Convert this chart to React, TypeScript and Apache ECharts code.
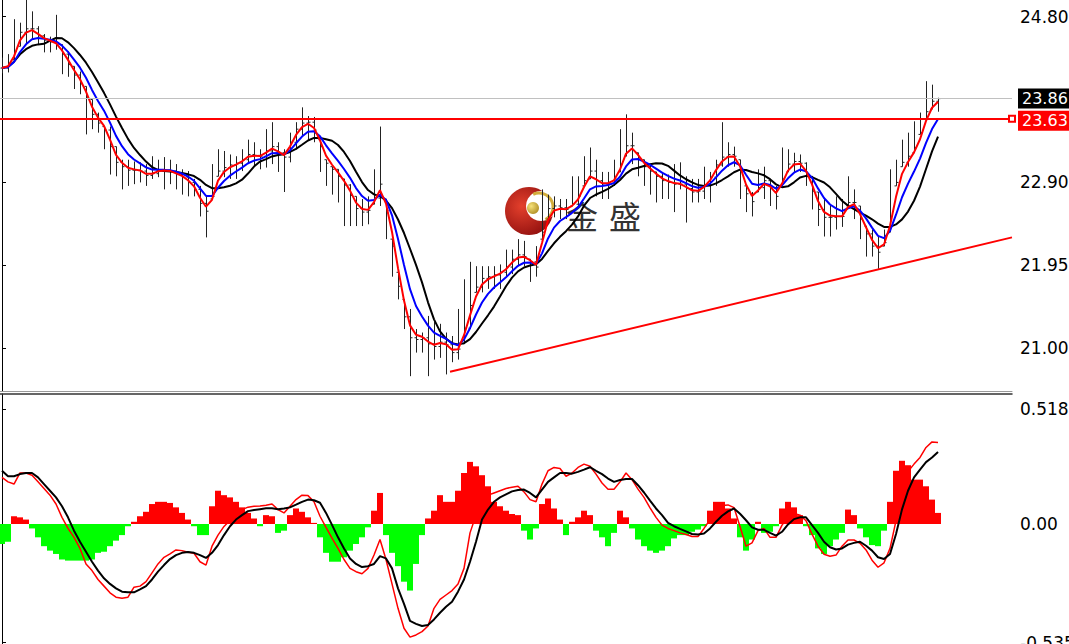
import React, { useEffect, useRef } from "react";
import * as echarts from "echarts";

// ---- price bars (one entry per bar) ----
const HIGH = [
  24.33, 24.37, 24.77, 24.73, 24.99, 24.86, 24.69, 24.6, 24.57, 24.82,
  24.48, 24.4, 24.23, 24.17, 24.0, 23.85, 23.7, 23.54, 23.54, 23.31,
  23.16, 23.16, 23.14, 23.13, 23.11, 23.2, 23.16, 23.19, 23.16, 23.11,
  23.05, 23.03, 22.94, 22.86, 22.74, 23.11, 23.28, 23.26, 23.22, 23.2,
  23.28, 23.39, 23.36, 23.28, 23.51, 23.59, 23.36, 23.28, 23.47, 23.59,
  23.76, 23.66, 23.65, 23.39, 23.16, 23.08, 23.05, 22.94, 22.88, 22.74,
  22.71, 22.74, 23.05, 23.54, 22.71, 22.25, 21.87, 21.56, 21.45, 21.22,
  21.18, 21.37, 21.3, 21.28, 21.18, 21.14, 21.45, 21.79, 21.99, 21.94,
  21.94, 21.94, 21.94, 21.96, 22.13, 22.13, 22.25, 22.23, 22.02, 22.17,
  22.82, 22.76, 22.74, 22.71, 22.71, 22.97, 22.97, 23.2, 23.3, 23.16,
  23.02, 23.02, 23.16, 23.51, 23.68, 23.47, 23.24, 23.16, 23.11, 23.02,
  23.02, 22.99, 23.11, 23.13, 22.97, 22.94, 22.94, 23.08, 23.02, 23.16,
  23.59, 23.36, 23.31, 23.16, 22.86, 22.79, 23.05, 23.08, 22.94, 22.86,
  23.3, 23.28, 23.24, 23.22, 23.13, 22.97, 22.79, 22.71, 22.65, 22.74,
  22.71, 22.97, 22.82, 22.63, 22.4, 22.36, 22.28, 22.36, 23.05, 23.16,
  23.39, 23.47, 23.6, 23.7, 24.06, 24.02, 23.87,
];
const LOW = [
  24.15, 24.16, 24.31, 24.46, 24.48, 24.54, 24.48, 24.39, 24.39, 24.42,
  24.14, 24.11, 23.97, 23.91, 23.45, 23.51, 23.47, 23.28, 22.99, 22.97,
  22.82, 22.86, 22.88, 22.9, 22.86, 22.94, 22.96, 22.82, 22.88, 22.82,
  22.76, 22.74, 22.74, 22.51, 22.27, 22.71, 22.97, 22.96, 22.94, 22.94,
  23.03, 23.11, 23.08, 23.05, 23.07, 23.11, 23.02, 22.79, 23.13, 23.28,
  23.43, 23.39, 23.36, 23.02, 22.86, 22.76, 22.67, 22.4, 22.4, 22.4,
  22.4, 22.42, 22.65, 22.63, 22.25, 21.82, 21.56, 21.22, 20.68, 20.95,
  20.95, 20.68, 20.87, 20.89, 20.7, 20.84, 20.87, 21.05, 21.22, 21.64,
  21.64, 21.68, 21.68, 21.68, 21.82, 21.85, 21.94, 21.94, 21.76, 21.82,
  22.25, 22.48, 22.5, 22.48, 22.48, 22.63, 22.63, 22.86, 22.94, 22.74,
  22.71, 22.71, 22.86, 23.02, 23.2, 23.11, 22.97, 22.86, 22.76, 22.67,
  22.71, 22.71, 22.56, 22.82, 22.44, 22.67, 22.67, 22.71, 22.67, 22.86,
  23.08, 23.08, 23.08, 22.71, 22.56, 22.51, 22.79, 22.71, 22.63, 22.59,
  22.86, 23.02, 23.02, 23.02, 22.86, 22.59, 22.4, 22.28, 22.28, 22.36,
  22.39, 22.63, 22.48, 22.25, 22.05, 22.05, 21.91, 22.17, 22.33, 22.86,
  23.08, 23.08, 23.24, 23.45, 23.62, 23.74, 23.71,
];
const CLOSE = [
  24.21, 24.24, 24.4, 24.62, 24.66, 24.66, 24.58, 24.53, 24.51, 24.48,
  24.37, 24.25, 24.13, 24.03, 23.87, 23.68, 23.58, 23.5, 23.31, 23.13,
  23.08, 23.04, 23.04, 23.03, 22.98, 23.0, 23.04, 23.04, 23.03, 22.99,
  22.96, 22.9, 22.82, 22.66, 22.57, 22.74, 23.03, 23.07, 23.1, 23.12,
  23.16, 23.22, 23.21, 23.2, 23.26, 23.31, 23.24, 23.19, 23.36, 23.51,
  23.58, 23.59, 23.5, 23.31, 23.12, 23.05, 22.97, 22.87, 22.75, 22.6,
  22.56, 22.58, 22.72, 22.88, 22.58, 22.17, 21.71, 21.36, 21.12, 21.1,
  21.12, 21.05, 21.02, 21.07, 21.04, 20.95, 20.99, 21.23, 21.49, 21.7,
  21.8, 21.82, 21.84, 21.87, 21.93, 22.02, 22.07, 22.05, 21.99, 21.93,
  22.33, 22.6, 22.63, 22.61, 22.59, 22.65, 22.74, 22.92, 23.03, 22.92,
  22.87, 22.89, 22.94, 23.11, 23.32, 23.32, 23.18, 23.08, 23.03, 22.97,
  22.92, 22.9, 22.88, 22.88, 22.83, 22.79, 22.8, 22.87, 22.96, 23.1,
  23.19, 23.22, 23.2, 23.03, 22.77, 22.68, 22.84, 22.92, 22.84, 22.74,
  22.94, 23.11, 23.14, 23.12, 22.99, 22.8, 22.59, 22.5, 22.5, 22.51,
  22.51, 22.67, 22.67, 22.48, 22.31, 22.17, 22.1, 22.21, 22.51, 22.9,
  23.13, 23.2, 23.3, 23.47, 23.71, 23.83, 23.86,
];

// ---- MACD window ----
const MACD_MAIN = [
  0.21, 0.19, 0.18, 0.23, 0.23, 0.22, 0.19, 0.16, 0.13, 0.09,
  0.03, -0.02, -0.06, -0.11, -0.18, -0.21, -0.25, -0.28, -0.31, -0.33,
  -0.335, -0.33, -0.285, -0.28, -0.26, -0.22, -0.18, -0.15, -0.135, -0.117,
  -0.12, -0.127, -0.132, -0.17, -0.185, -0.1, -0.05, -0.011, 0.017, 0.043,
  0.065, 0.076, 0.08, 0.081, 0.085, 0.09, 0.065, 0.05, 0.08, 0.11,
  0.13, 0.128, 0.1, 0.035, -0.015, -0.064, -0.11, -0.16, -0.2, -0.215,
  -0.224, -0.2, -0.14, -0.07, -0.16, -0.27, -0.38, -0.47, -0.51, -0.5,
  -0.485, -0.46, -0.38, -0.34, -0.32, -0.3, -0.27, -0.2, -0.04, 0.04,
  0.1, 0.13, 0.14, 0.15, 0.16, 0.166, 0.17, 0.145, 0.11, 0.1,
  0.18, 0.24, 0.255, 0.25, 0.215, 0.23, 0.255, 0.27, 0.26, 0.225,
  0.185, 0.157, 0.157, 0.19, 0.23, 0.2, 0.157, 0.12, 0.073, 0.03,
  -0.005, -0.02, -0.03, -0.04, -0.047, -0.056, -0.056, -0.02, 0.02, 0.06,
  0.083, 0.086, 0.074, -0.011, -0.1, -0.085, -0.03, -0.02, -0.06, -0.06,
  -0.005, 0.03, 0.048, 0.04, 0.015, -0.046, -0.1, -0.136, -0.145, -0.14,
  -0.1, -0.072, -0.072, -0.087, -0.117, -0.163, -0.195, -0.175, -0.11, 0.015,
  0.172, 0.237, 0.27, 0.3, 0.345, 0.37, 0.367,
];
const MACD_SIGNAL = [
  0.24, 0.215, 0.215, 0.225, 0.23, 0.23, 0.21, 0.18, 0.15, 0.12,
  0.08, 0.03, -0.03, -0.08, -0.125, -0.17, -0.21, -0.245, -0.27, -0.29,
  -0.305, -0.308, -0.308, -0.295, -0.28, -0.25, -0.215, -0.185, -0.158, -0.14,
  -0.13, -0.126, -0.13, -0.14, -0.153, -0.13, -0.095, -0.05, -0.01, 0.02,
  0.04, 0.058, 0.063, 0.067, 0.071, 0.071, 0.067, 0.07, 0.075, 0.087,
  0.1, 0.11, 0.107, 0.096, 0.05, -0.004, -0.06, -0.11, -0.155, -0.18,
  -0.194, -0.19, -0.18, -0.145, -0.155, -0.2, -0.29, -0.36, -0.437, -0.45,
  -0.46, -0.455, -0.43, -0.4, -0.373, -0.35, -0.305, -0.25, -0.17, -0.08,
  0.02, 0.065, 0.1, 0.12, 0.134, 0.147, 0.153, 0.155, 0.14, 0.12,
  0.155, 0.19, 0.21, 0.23, 0.23, 0.227, 0.235, 0.245, 0.256, 0.24,
  0.225, 0.205, 0.19, 0.198, 0.203, 0.203, 0.175, 0.142, 0.105, 0.07,
  0.04, 0.005, -0.01, -0.022, -0.033, -0.045, -0.047, -0.043, -0.02, 0.01,
  0.037, 0.057, 0.07, 0.046, 0.017, -0.015, -0.026, -0.026, -0.04, -0.052,
  -0.035, -0.002, 0.022, 0.03, 0.03, -0.005, -0.04, -0.08, -0.105, -0.115,
  -0.11, -0.093, -0.085, -0.08, -0.098, -0.12, -0.15, -0.158, -0.135, -0.045,
  0.066, 0.15, 0.21, 0.245, 0.279, 0.3, 0.325,
];
const MACD_HIST = [
  -0.09, -0.08, 0.035, 0.03, 0.02, -0.02, -0.06, -0.1, -0.12, -0.135,
  -0.16, -0.165, -0.165, -0.165, -0.165, -0.16, -0.13, -0.125, -0.1, -0.075,
  -0.05, -0.01, 0.01, 0.035, 0.055, 0.09, 0.1, 0.1, 0.095, 0.075,
  0.05, 0.02, -0.01, -0.05, -0.05, 0.08, 0.15, 0.13, 0.12, 0.1,
  0.075, 0.05, 0.025, -0.01, 0.04, 0.035, -0.04, -0.03, 0.04, 0.07,
  0.055, 0.03, 0.005, -0.06, -0.13, -0.17, -0.17, -0.15, -0.12, -0.09,
  -0.06, -0.015, 0.06, 0.14, -0.05, -0.13, -0.19, -0.26, -0.3, -0.18,
  -0.05, 0.025, 0.06, 0.13, 0.1, 0.1, 0.15, 0.23, 0.28, 0.26,
  0.22, 0.17, 0.1, 0.08, 0.06, 0.045, 0.04, -0.03, -0.07, -0.02,
  0.09, 0.115, 0.07, 0.02, -0.05, 0.01, 0.03, 0.06, 0.04, -0.03,
  -0.06, -0.1, -0.04, 0.06, 0.03, -0.02, -0.07, -0.1, -0.12, -0.13,
  -0.12, -0.1, -0.065, -0.05, -0.05, -0.035, -0.025, -0.01, 0.06, 0.1,
  0.1, 0.07, 0.025, -0.06, -0.12, -0.07, 0.01, -0.04, -0.035, -0.01,
  0.07, 0.1, 0.075, 0.04, -0.01, -0.05, -0.11, -0.135, -0.1, -0.07,
  -0.04, 0.065, 0.04, -0.02, -0.06, -0.095, -0.1, -0.03, 0.1, 0.24,
  0.285, 0.265, 0.2, 0.2, 0.17, 0.11, 0.05,
];

// ---- axis labels & levels ----
const PRICE_LABELS = [21.0, 21.95, 22.9, 24.8];
const MACD_LABELS = [-0.535, 0, 0.518];
const BID_PRICE = 23.86;
const RESISTANCE = 23.63;
const TREND_FROM = [74.67, 20.73];
const TREND_TO = [168.33, 22.27];
const PRICE_MIN = 20.51;
const PRICE_MAX = 24.99;
const MACD_MIN = -0.613;
const MACD_MAX = 0.586;
const X_MIN = -0.333;
const X_MAX = 168.33;

const FAST_EMA = 2;
const MID_EMA = 5;
const SLOW_SMA = 8;

function ema(src: number[], n: number): number[] {
  const a = 2 / (n + 1);
  const out: number[] = [];
  let prev = src[0];
  src.forEach((v, i) => {
    prev = i === 0 ? v : a * v + (1 - a) * prev;
    out.push(prev);
  });
  return out;
}
function sma(src: number[], n: number): number[] {
  return src.map((_, i) => {
    const w = src.slice(Math.max(0, i - n + 1), i + 1);
    return w.reduce((s, v) => s + v, 0) / w.length;
  });
}

const FONT = "DejaVu Sans";

export default function App() {
  const ref = useRef<HTMLDivElement>(null);
  useEffect(() => {
    document.body.style.margin = "0";
    const chart = echarts.init(ref.current as HTMLDivElement, null, { renderer: "svg" });
    const bars = CLOSE.map((c, i) => {
      const prev = i === 0 ? c : CLOSE[i - 1];
      const o = Math.min(HIGH[i], Math.max(LOW[i], prev));
      return [i, o, c, LOW[i], HIGH[i]];
    });
    const toXY = (arr: number[]) => arr.map((v, i) => [i, v]);
    const red = toXY(ema(CLOSE, FAST_EMA));
    const blue = toXY(ema(CLOSE, MID_EMA));
    const black = toXY(sma(CLOSE, SLOW_SMA));
    const barColor = "#222222";

    const gold = new echarts.graphic.RadialGradient(0.35, 0.35, 0.8, [
      { offset: 0, color: "#f6e27a" },
      { offset: 1, color: "#a8861c" },
    ]);
    const redGrad = new echarts.graphic.RadialGradient(0.35, 0.4, 0.75, [
      { offset: 0, color: "#e4402c" },
      { offset: 1, color: "#8a0c0c" },
    ]);

    const boxLabel = {
      show: true, position: "end", distance: 6,
      color: "#ffffff", padding: [1, 6, 1, 4],
      fontFamily: FONT, fontSize: 16, lineHeight: 18,
    };

    const option: any = {
      animation: false,
      backgroundColor: "#ffffff",
      grid: [
        { left: 0, right: 57, top: 0, bottom: 253, containLabel: false, outerBoundsMode: "none" },
        { left: 0, right: 57, top: 394, bottom: -16, containLabel: false, outerBoundsMode: "none" },
      ],
      xAxis: [
        {
          type: "value", gridIndex: 0, min: X_MIN, max: X_MAX, position: "bottom",
          axisLine: { show: true, onZero: false, lineStyle: { color: "#9a9a9a", width: 1 } },
          axisTick: { show: false }, axisLabel: { show: false }, splitLine: { show: false },
        },
        {
          type: "value", gridIndex: 1, min: X_MIN, max: X_MAX, position: "top",
          axisLine: { show: true, onZero: false, lineStyle: { color: "#333333", width: 1.5 } },
          axisTick: { show: false }, axisLabel: { show: false }, splitLine: { show: false },
        },
      ],
      yAxis: [
        {
          type: "value", gridIndex: 0, position: "right", min: PRICE_MIN, max: PRICE_MAX,
          axisLine: { show: true, lineStyle: { color: "#000", width: 1 } },
          axisTick: { show: true, length: 4, customValues: PRICE_LABELS, lineStyle: { color: "#000" } },
          axisLabel: {
            customValues: PRICE_LABELS, formatter: (v: number) => v.toFixed(2),
            color: "#000", fontFamily: FONT, fontSize: 17, margin: 8,
          },
          splitLine: { show: false },
        },
        {
          type: "value", gridIndex: 1, position: "right", min: MACD_MIN, max: MACD_MAX,
          axisLine: { show: true, lineStyle: { color: "#000", width: 1 } },
          axisTick: { show: true, length: 4, customValues: MACD_LABELS, lineStyle: { color: "#000" } },
          axisLabel: {
            customValues: MACD_LABELS,
            formatter: (v: number) => (v === 0 ? "0.00" : v.toFixed(3)),
            color: "#000", fontFamily: FONT, fontSize: 17, margin: 8,
          },
          splitLine: { show: false },
        },
      ],
      graphic: [
        { type: "circle", z: 0, shape: { cx: 529, cy: 211, r: 24 }, style: { fill: redGrad } },
        { type: "circle", z: 0, shape: { cx: 541, cy: 206, r: 15 }, style: { fill: "#ffffff" } },
        {
          type: "arc", z: 0,
          shape: { cx: 539, cy: 207, r: 14, startAngle: -2.0, endAngle: 1.1, clockwise: true },
          style: { stroke: "#d2ad3c", lineWidth: 3, fill: "none" },
        },
        { type: "circle", z: 0, shape: { cx: 533, cy: 208, r: 6 }, style: { fill: gold } },
        {
          type: "text", z: 0, x: 566, y: 215,
          style: { text: "金", font: '32px "Noto Sans CJK SC"', fill: "#333333", verticalAlign: "middle" },
        },
        {
          type: "text", z: 0, x: 609, y: 215,
          style: { text: "盛", font: '32px "Noto Sans CJK SC"', fill: "#333333", verticalAlign: "middle" },
        },
      ],
      series: [
        {
          type: "custom", name: "bars", xAxisIndex: 0, yAxisIndex: 0, silent: true,
          renderItem: (params: any, api: any) => {
            const x = api.value(0);
            const pO = api.coord([x, api.value(1)]);
            const pC = api.coord([x, api.value(2)]);
            const pL = api.coord([x, api.value(3)]);
            const pH = api.coord([x, api.value(4)]);
            const px = Math.round(pH[0]) + 0.5;
            const st = { stroke: barColor, lineWidth: 1 };
            return {
              type: "group",
              children: [
                { type: "line", shape: { x1: px, y1: pH[1], x2: px, y2: pL[1] }, style: st },
                { type: "line", shape: { x1: px - 2, y1: pO[1], x2: px, y2: pO[1] }, style: st },
                { type: "line", shape: { x1: px, y1: pC[1], x2: px + 2, y2: pC[1] }, style: st },
              ],
            };
          },
          encode: { x: 0, y: [1, 2, 3, 4] },
          data: bars,
        },
        {
          type: "line", name: "ma-slow", xAxisIndex: 0, yAxisIndex: 0, data: black,
          showSymbol: false, silent: true, lineStyle: { color: "#000000", width: 2 },
          markLine: {
            silent: true, symbol: ["none", "none"], animation: false,
            lineStyle: { color: "#ff0000", width: 2, type: "solid" },
            label: { show: false },
            data: [[{ coord: TREND_FROM }, { coord: TREND_TO }]],
          },
        },
        {
          type: "line", name: "ma-mid", xAxisIndex: 0, yAxisIndex: 0, data: blue,
          showSymbol: false, silent: true, lineStyle: { color: "#0000ff", width: 2 },
          markLine: {
            silent: true, symbol: ["none", "none"], animation: false,
            lineStyle: { color: "#c0c0c0", width: 1, type: "solid" },
            label: { ...boxLabel, backgroundColor: "#000000", formatter: () => BID_PRICE.toFixed(2) },
            data: [{ yAxis: BID_PRICE }],
          },
        },
        {
          type: "line", name: "ma-fast", xAxisIndex: 0, yAxisIndex: 0, data: red,
          showSymbol: false, silent: true, lineStyle: { color: "#ff0000", width: 2 },
          markLine: {
            silent: true, symbol: ["none", "emptyRect"], symbolSize: 6, animation: false,
            lineStyle: { color: "#ff0000", width: 2, type: "solid" },
            label: {
              ...boxLabel, offset: [0, 2], backgroundColor: "#ff0000",
              formatter: () => RESISTANCE.toFixed(2),
            },
            data: [{ yAxis: RESISTANCE }],
          },
        },
        {
          type: "bar", name: "hist", xAxisIndex: 1, yAxisIndex: 1, silent: true,
          barWidth: 6,
          data: MACD_HIST.map((v, i) => ({
            value: [i, v],
            itemStyle: { color: v >= 0 ? "#ff0000" : "#00ff00" },
          })),
        },
        {
          type: "line", name: "macd", xAxisIndex: 1, yAxisIndex: 1, data: toXY(MACD_MAIN),
          showSymbol: false, silent: true, lineStyle: { color: "#ff0000", width: 1.5 },
        },
        {
          type: "line", name: "signal", xAxisIndex: 1, yAxisIndex: 1, data: toXY(MACD_SIGNAL),
          showSymbol: false, silent: true, lineStyle: { color: "#000000", width: 2 },
        },
      ],
    };
    chart.setOption(option);
    return () => chart.dispose();
  }, []);
  return (
    <div
      ref={ref}
      style={{ position: "fixed", left: 0, top: 0, width: 1069, height: 644, background: "#fff" }}
    />
  );
}
